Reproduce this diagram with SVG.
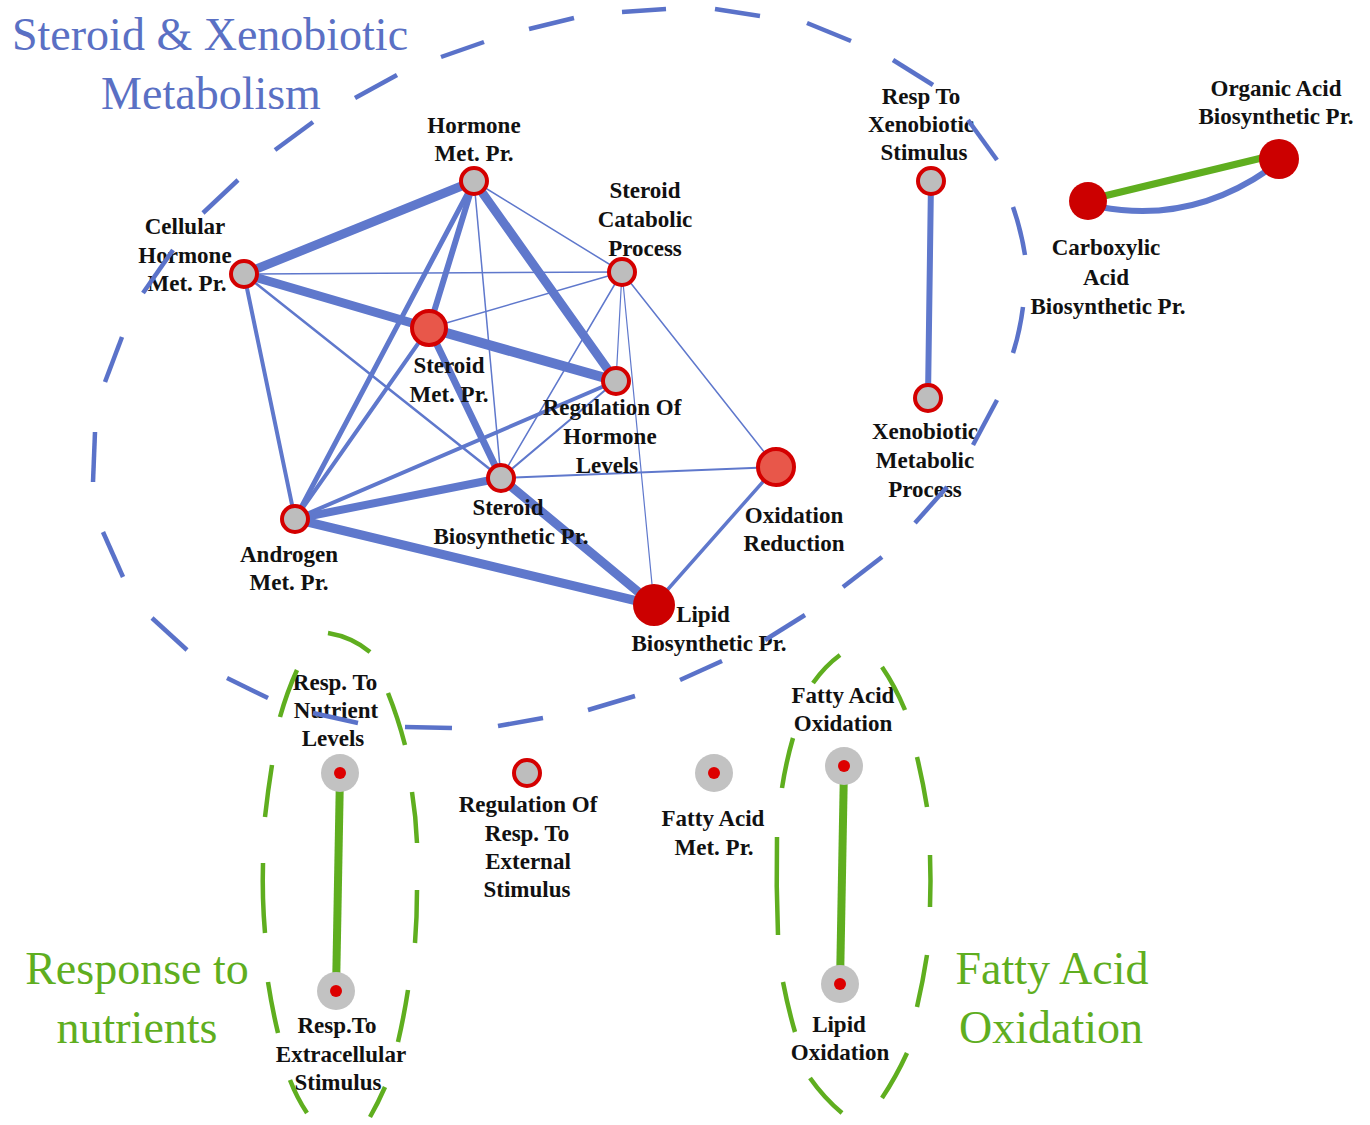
<svg xmlns="http://www.w3.org/2000/svg" width="1370" height="1125" viewBox="0 0 1370 1125">
<style>
.lbl{font-family:"Liberation Serif","Times New Roman",serif;font-weight:bold;font-size:23px;fill:#111;text-anchor:middle}
.title{font-family:"Liberation Serif","Times New Roman",serif;font-size:46px}
.tb{fill:#5a70c4}
.tg{fill:#5fae1f}
.e{stroke:#5f78cc;fill:none;stroke-linecap:round}
.g{stroke:#5fae1f;fill:none;stroke-linecap:butt}
.ring{fill:#bdbdbd;stroke:#d40000;stroke-width:4}
.hot{fill:#e8574a;stroke:#d40000;stroke-width:4}
.solid{fill:#cc0000}
.gray{fill:#c2c2c2}
.dot{fill:#dd0000}
.grp-b path{fill:none;stroke:#5a72c9;stroke-width:4.5}
.grp-g path{fill:none;stroke:#5fae1f;stroke-width:4.5}
</style>
<rect width="1370" height="1125" fill="#ffffff"/>

<g id="titles">
<text class="title tb" x="12" y="50">Steroid &amp; Xenobiotic</text>
<text class="title tb" x="211" y="109" text-anchor="middle">Metabolism</text>
<text class="title tg" x="137" y="984" text-anchor="middle">Response to</text>
<text class="title tg" x="137" y="1043" text-anchor="middle">nutrients</text>
<text class="title tg" x="1052" y="984" text-anchor="middle">Fatty Acid</text>
<text class="title tg" x="1051" y="1043" text-anchor="middle">Oxidation</text>
</g>

<g id="connectors">
<line class="e" x1="244" y1="274" x2="474" y2="181" stroke-width="9"/>
<line class="e" x1="244" y1="274" x2="429" y2="328" stroke-width="9"/>
<line class="e" x1="244" y1="274" x2="622" y2="272" stroke-width="1.5"/>
<line class="e" x1="244" y1="274" x2="501" y2="478" stroke-width="2.5"/>
<line class="e" x1="244" y1="274" x2="295" y2="519" stroke-width="4"/>
<line class="e" x1="474" y1="181" x2="429" y2="328" stroke-width="6"/>
<line class="e" x1="474" y1="181" x2="295" y2="519" stroke-width="5"/>
<line class="e" x1="474" y1="181" x2="501" y2="478" stroke-width="1.5"/>
<line class="e" x1="474" y1="181" x2="616" y2="381" stroke-width="9"/>
<line class="e" x1="474" y1="181" x2="622" y2="272" stroke-width="1.5"/>
<line class="e" x1="429" y1="328" x2="616" y2="381" stroke-width="10"/>
<line class="e" x1="429" y1="328" x2="501" y2="478" stroke-width="7"/>
<line class="e" x1="429" y1="328" x2="622" y2="272" stroke-width="1.5"/>
<line class="e" x1="429" y1="328" x2="295" y2="519" stroke-width="4"/>
<line class="e" x1="622" y1="272" x2="501" y2="478" stroke-width="1.5"/>
<line class="e" x1="622" y1="272" x2="616" y2="381" stroke-width="1.2"/>
<line class="e" x1="622" y1="272" x2="654" y2="605" stroke-width="1.2"/>
<line class="e" x1="622" y1="272" x2="776" y2="467" stroke-width="1.5"/>
<line class="e" x1="616" y1="381" x2="501" y2="478" stroke-width="2"/>
<line class="e" x1="616" y1="381" x2="295" y2="519" stroke-width="4"/>
<line class="e" x1="501" y1="478" x2="295" y2="519" stroke-width="8"/>
<line class="e" x1="501" y1="478" x2="654" y2="605" stroke-width="9"/>
<line class="e" x1="501" y1="478" x2="776" y2="467" stroke-width="2"/>
<line class="e" x1="295" y1="519" x2="654" y2="605" stroke-width="9"/>
<line class="e" x1="776" y1="467" x2="654" y2="605" stroke-width="3.5"/>
<line class="e" x1="931" y1="181" x2="928" y2="398" stroke-width="6"/>
<path class="e" d="M1100,207 Q1190,224 1268,170" stroke-width="6"/>
<line class="g" x1="1100" y1="197" x2="1270" y2="156" stroke-width="7"/>
<line class="g" x1="340" y1="773" x2="336" y2="991" stroke-width="8"/>
<line class="g" x1="844" y1="766" x2="840" y2="984" stroke-width="8"/>
</g>

<g id="n-hormone"><circle class="ring" cx="474" cy="181" r="13"/><text class="lbl" x="474" y="133">Hormone<tspan x="474" dy="28">Met. Pr.</tspan></text></g>
<g id="n-cellular"><circle class="ring" cx="244" cy="274" r="13"/><text class="lbl" x="185" y="234">Cellular<tspan x="185" dy="29">Hormone</tspan><tspan x="187" dy="28">Met. Pr.</tspan></text></g>
<g id="n-catabolic"><circle class="ring" cx="622" cy="272" r="13"/><text class="lbl" x="645" y="198">Steroid<tspan x="645" dy="29">Catabolic</tspan><tspan x="645" dy="29">Process</tspan></text></g>
<g id="n-steroidmet"><circle class="hot" cx="429" cy="328" r="17"/><text class="lbl" x="449" y="373">Steroid<tspan x="449" dy="29">Met. Pr.</tspan></text></g>
<g id="n-regulation"><circle class="ring" cx="616" cy="381" r="13"/><text class="lbl" x="612" y="415">Regulation Of<tspan x="610" dy="29">Hormone</tspan><tspan x="607" dy="29">Levels</tspan></text></g>
<g id="n-steroidbio"><circle class="ring" cx="501" cy="478" r="13"/><text class="lbl" x="508" y="515">Steroid<tspan x="511" dy="29">Biosynthetic Pr.</tspan></text></g>
<g id="n-androgen"><circle class="ring" cx="295" cy="519" r="13"/><text class="lbl" x="289" y="562">Androgen<tspan x="289" dy="28">Met. Pr.</tspan></text></g>
<g id="n-oxred"><circle class="hot" cx="776" cy="467" r="18"/><text class="lbl" x="794" y="523">Oxidation<tspan x="794" dy="28">Reduction</tspan></text></g>
<g id="n-lipidbio"><circle class="solid" cx="654" cy="605" r="21"/><text class="lbl" x="703" y="622">Lipid<tspan x="709" dy="29">Biosynthetic Pr.</tspan></text></g>
<g id="n-respxeno"><circle class="ring" cx="931" cy="181" r="13"/><text class="lbl" x="921" y="104">Resp To<tspan x="921" dy="28">Xenobiotic</tspan><tspan x="924" dy="28">Stimulus</tspan></text></g>
<g id="n-xenomet"><circle class="ring" cx="928" cy="398" r="13"/><text class="lbl" x="925" y="439">Xenobiotic<tspan x="925" dy="29">Metabolic</tspan><tspan x="925" dy="29">Process</tspan></text></g>
<g id="n-carboxylic"><circle class="solid" cx="1088" cy="201" r="19"/><text class="lbl" x="1106" y="255">Carboxylic<tspan x="1106" dy="30">Acid</tspan><tspan x="1108" dy="29">Biosynthetic Pr.</tspan></text></g>
<g id="n-organic"><circle class="solid" cx="1279" cy="159" r="20"/><text class="lbl" x="1276" y="96">Organic Acid<tspan x="1276" dy="28">Biosynthetic Pr.</tspan></text></g>
<g id="n-respnutrient"><circle class="gray" cx="340" cy="773" r="19"/><circle class="dot" cx="340" cy="773" r="6"/><text class="lbl" x="335" y="690">Resp. To<tspan x="336" dy="28">Nutrient</tspan><tspan x="333" dy="28">Levels</tspan></text></g>
<g id="n-respextra"><circle class="gray" cx="336" cy="991" r="19"/><circle class="dot" cx="336" cy="991" r="6"/><text class="lbl" x="337" y="1033">Resp.To<tspan x="341" dy="29">Extracellular</tspan><tspan x="338" dy="28">Stimulus</tspan></text></g>
<g id="n-regext"><circle class="ring" cx="527" cy="773" r="13"/><text class="lbl" x="528" y="812">Regulation Of<tspan x="527" dy="29">Resp. To</tspan><tspan x="528" dy="28">External</tspan><tspan x="527" dy="28">Stimulus</tspan></text></g>
<g id="n-fattymet"><circle class="gray" cx="714" cy="773" r="19"/><circle class="dot" cx="714" cy="773" r="6"/><text class="lbl" x="713" y="826">Fatty Acid<tspan x="714" dy="29">Met. Pr.</tspan></text></g>
<g id="n-fattyox"><circle class="gray" cx="844" cy="766" r="19"/><circle class="dot" cx="844" cy="766" r="6"/><text class="lbl" x="843" y="703">Fatty Acid<tspan x="843" dy="28">Oxidation</tspan></text></g>
<g id="n-lipidox"><circle class="gray" cx="840" cy="984" r="19"/><circle class="dot" cx="840" cy="984" r="6"/><text class="lbl" x="839" y="1032">Lipid<tspan x="840" dy="28">Oxidation</tspan></text></g>

<g id="group-steroid-xeno" class="grp-b">
<path d="M622,12 L666,9"/>
<path d="M715,9 L760,16"/>
<path d="M807,23 L851,41"/>
<path d="M893,60 L933,85"/>
<path d="M968,120 L997,160"/>
<path d="M1013,207 Q1021,230 1025,255"/>
<path d="M1023,307 Q1020,331 1013,353"/>
<path d="M997,400 L973,445"/>
<path d="M947,487 L915,523"/>
<path d="M882,557 L843,587"/>
<path d="M805,615 L765,640"/>
<path d="M722,661 L680,680"/>
<path d="M635,696 L588,710"/>
<path d="M543,718 L498,726"/>
<path d="M452,728 L405,727"/>
<path d="M358,723 L313,713"/>
<path d="M268,698 L227,678"/>
<path d="M187,650 L152,618"/>
<path d="M123,577 L103,532"/>
<path d="M93,482 L95,432"/>
<path d="M105,382 L122,337"/>
<path d="M143,293 L173,250"/>
<path d="M203,213 L238,180"/>
<path d="M275,150 L313,122"/>
<path d="M355,98 L397,75"/>
<path d="M441,57 L484,42"/>
<path d="M529,29 L574,18"/>
</g>
<g id="group-nutrients" class="grp-g">
<path d="M328,633 Q352,637 370,652"/>
<path d="M280,717 Q287,692 297,670"/>
<path d="M272,765 Q268,790 265,817"/>
<path d="M263,863 Q262,898 265,933"/>
<path d="M268,982 Q272,1008 278,1033"/>
<path d="M290,1080 Q297,1098 307,1113"/>
<path d="M388,693 Q398,718 405,745"/>
<path d="M412,792 Q416,817 417,843"/>
<path d="M417,890 Q417,917 415,943"/>
<path d="M408,990 Q404,1016 398,1042"/>
<path d="M385,1087 Q378,1103 370,1117"/>
</g>
<g id="group-fatty" class="grp-g">
<path d="M813,683 Q825,666 840,655"/>
<path d="M882,667 Q895,686 905,710"/>
<path d="M793,738 Q786,762 782,788"/>
<path d="M777,837 Q776,886 778,935"/>
<path d="M783,982 Q788,1008 795,1032"/>
<path d="M810,1078 Q824,1098 842,1113"/>
<path d="M917,757 Q923,782 927,807"/>
<path d="M930,855 Q931,881 930,907"/>
<path d="M927,955 Q923,981 917,1007"/>
<path d="M907,1053 Q896,1077 882,1098"/>
</g>
</svg>
